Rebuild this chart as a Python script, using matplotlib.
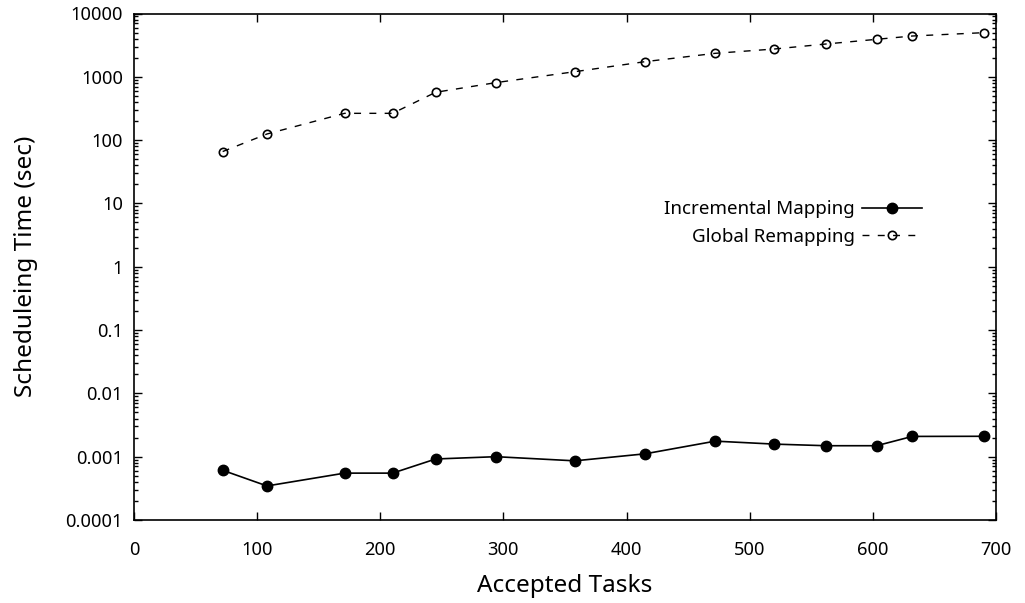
import matplotlib
matplotlib.use("Agg")
import matplotlib.pyplot as plt
from matplotlib.ticker import FixedLocator, FixedFormatter, LogLocator, NullFormatter, NullLocator

accepted_tasks = [72, 108, 171, 210, 245, 294, 358, 415, 472, 520, 562, 603, 632, 690]
incremental = [6.1e-4, 3.45e-4, 5.5e-4, 5.5e-4, 9.2e-4, 1.0e-3, 8.6e-4, 1.11e-3,
               1.76e-3, 1.58e-3, 1.49e-3, 1.49e-3, 2.09e-3, 2.1e-3]
global_remap = [66, 125, 265, 265, 570, 810, 1205, 1735, 2350, 2750, 3300, 3910, 4410, 4980]
y_ticks = [1e-4, 1e-3, 1e-2, 1e-1, 1, 10, 100, 1000, 10000]
y_tick_labels = ["0.0001", "0.001", "0.01", "0.1", "1", "10", "100", "1000", "10000"]
x_ticks = [0, 100, 200, 300, 400, 500, 600, 700]

plt.rcParams['font.family'] = ['Noto Sans', 'DejaVu Sans']
fig = plt.figure(figsize=(10.25, 6.03), dpi=100)
ax = fig.add_axes([134 / 1025, 1 - 520 / 603, (996 - 134) / 1025, (520 - 13.5) / 603])

ax.plot(accepted_tasks, incremental, color='black', lw=1.2, marker='o', ms=7.5,
        mfc='black', mec='black', label='Incremental Mapping')
ax.plot(accepted_tasks, global_remap, color='black', lw=1.0, ls=(0, (5, 6)), marker='o', ms=6,
        mfc='none', mec='black', mew=1.2, label='Global Remapping')

ax.set_yscale('log')
ax.set_xlim(0, 700)
ax.set_ylim(1e-4, 1e4)
ax.xaxis.set_major_locator(FixedLocator(x_ticks))
ax.xaxis.set_minor_locator(NullLocator())
ax.yaxis.set_major_locator(FixedLocator(y_ticks))
ax.yaxis.set_major_formatter(FixedFormatter(y_tick_labels))
ax.yaxis.set_minor_locator(LogLocator(base=10, subs=range(2, 10), numticks=20))
ax.yaxis.set_minor_formatter(NullFormatter())

ax.tick_params(which='both', direction='in', top=True, right=True, labelsize=13.2, width=1.0)
ax.tick_params(axis='y', which='major', length=6, pad=8)
ax.tick_params(axis='x', which='major', length=6, pad=15)
ax.tick_params(which='minor', length=3)
for s in ax.spines.values():
    s.set_linewidth(1.2)

ax.set_xlabel('Accepted Tasks', fontsize=17.5, labelpad=11)
ax.set_ylabel('Scheduleing Time (sec)', fontsize=17.5, labelpad=20)

ax.legend(loc='upper right', bbox_to_anchor=(0.923, 0.646), frameon=False, markerfirst=False,
          fontsize=13.5, handlelength=3.2, handletextpad=0.4, borderaxespad=0, labelspacing=0.5)

fig.savefig('out.png', dpi=100)
